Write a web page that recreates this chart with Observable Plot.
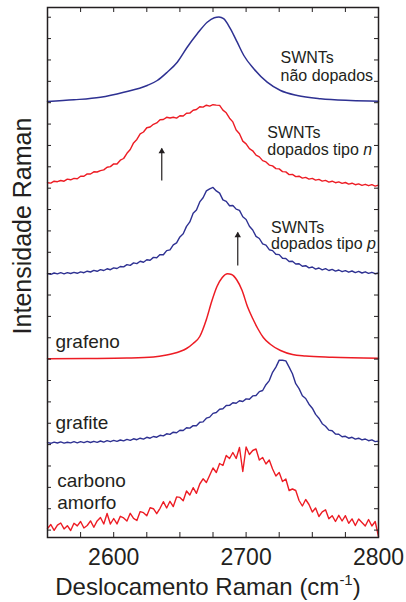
<!DOCTYPE html>
<html><head><meta charset="utf-8">
<script src="https://cdn.jsdelivr.net/npm/d3@7"></script>
<script src="https://cdn.jsdelivr.net/npm/@observablehq/plot@0.6"></script>
<style>html,body{margin:0;padding:0;background:#fff;} #chart svg{display:block}</style>
</head><body><div id="chart"></div>
<script>
// Raman shift grid (cm^-1) for the sampled (noisy) spectra
const shift = [2550,2552.5,2555,2557.5,2560,2562.5,2565,2567.5,2570,2572.5,
 2575,2577.5,2580,2582.5,2585,2587.5,2590,2592.5,2595,2597.5,
 2600,2602.5,2605,2607.5,2610,2612.5,2615,2617.5,2620,2622.5,
 2625,2627.5,2630,2632.5,2635,2637.5,2640,2642.5,2645,2647.5,
 2650,2652.5,2655,2657.5,2660,2662.5,2665,2667.5,2670,2672.5,
 2675,2677.5,2680,2682.5,2685,2687.5,2690,2692.5,2695,2697.5,
 2700,2702.5,2705,2707.5,2710,2712.5,2715,2717.5,2720,2722.5,
 2725,2727.5,2730,2732.5,2735,2737.5,2740,2742.5,2745,2747.5,
 2750,2752.5,2755,2757.5,2760,2762.5,2765,2767.5,2770,2772.5,
 2775,2777.5,2780,2782.5,2785,2787.5,2790,2792.5,2795,2797.5,2800];

// Intensity (arbitrary units, vertically offset spectra)
const nDoped = [354.8,354.4,356.3,355.8,357.0,356.3,358.4,357.7,359.1,358.7,
 361.3,361.2,363.6,363.5,365.7,365.5,366.9,367.6,370.3,370.9,
 373.6,373.5,377.3,379.0,384.2,388.0,394.6,398.1,403.6,405.5,
 409.7,410.5,413.2,414.6,417.8,418.0,420.2,419.5,420.3,419.4,
 421.7,421.5,424.3,424.4,427.2,428.0,430.8,430.4,432.3,431.4,
 432.8,432.4,432.1,427.4,424.7,419.3,415.6,407.5,403.7,396.4,
 393.6,388.9,386.7,382.4,380.6,376.9,375.6,372.4,371.6,368.9,
 368.6,365.9,365.6,362.9,363.1,360.9,361.3,359.4,360.1,358.4,
 359.1,357.4,358.1,356.4,357.1,355.4,356.3,354.8,355.6,354.1,
 355.0,353.4,354.3,352.8,353.6,352.2,353.2,351.8,352.8,351.4,352.4];

const pDoped = [263.9,263.2,264.5,263.6,264.8,263.7,264.9,264.0,265.1,264.2,
 265.6,264.8,266.3,265.5,267.1,266.2,267.9,267.0,268.7,267.8,
 269.6,269.0,271.0,270.6,272.9,272.1,274.6,273.9,276.2,275.3,
 277.8,277.3,280.1,279.8,282.9,282.8,286.9,287.6,292.6,294.7,
 300.6,303.7,311.1,315.6,324.2,327.6,335.6,339.8,346.6,348.7,
 350.1,346.6,344.4,337.6,336.1,331.8,332.0,328.4,327.1,320.7,
 318.0,311.3,307.5,301.2,299.0,293.7,292.4,287.8,286.9,283.3,
 282.9,279.3,279.0,276.0,276.2,273.5,273.8,271.2,271.8,269.6,
 270.5,268.4,269.5,267.6,268.8,267.0,268.1,266.4,267.5,265.8,
 266.9,265.3,266.5,264.9,266.1,264.5,265.7,264.1,265.2,263.8,264.6];

const graphite = [94.9,94.2,95.4,94.5,95.6,94.4,95.3,94.6,95.8,94.7,
 95.9,94.9,96.1,95.0,96.2,95.2,96.5,95.4,96.8,95.8,
 97.1,96.1,97.5,96.6,98.1,97.1,98.7,97.8,99.3,98.4,
 100.2,99.3,101.0,100.3,102.2,101.6,103.7,103.1,105.3,104.8,
 107.2,107.0,109.7,109.4,111.9,111.7,115.2,115.6,119.3,120.4,
 124.1,125.0,128.3,128.8,132.0,132.1,134.8,134.3,136.7,136.0,
 138.6,138.3,141.6,142.0,145.9,147.0,152.8,156.9,165.2,170.4,
 177.4,177.3,176.6,170.3,163.8,153.8,148.9,141.8,139.0,133.3,
 129.3,123.1,119.3,113.8,111.3,107.4,106.8,103.4,103.2,100.8,
 101.2,99.3,100.2,98.4,99.3,97.6,98.5,96.8,97.6,95.9,96.4];

const amorphous = [9,13,7.2,12.4,14.5,8.6,11.8,7,14.2,11.6,
 16,9.5,12,16.6,10.2,16.6,20,13.5,24,13.5,
 19,13.6,21.2,19.6,16.4,24.2,19.1,17,25.9,24.8,
 21.7,29.7,28.8,23.8,29.2,35.8,29.5,36.2,30.9,40.6,
 40.1,36.7,46.5,42.5,49.8,44.2,53.5,58.7,55,62.2,
 69.5,65,74,72,82,79,85,79,90,66,
 90.5,83,87,88.5,77.5,80,73.5,77.5,68.5,61.5,
 65,56,58.5,47,48.5,47,37,31.5,38,33,
 25.5,29.5,21,25.7,27.7,18.7,21.8,16,22.2,16.5,
 21.8,14.2,18.6,12,18.5,15,11.5,18,11.5,16,1];

// Smooth spectra: [Raman shift, intensity]
const pristine = [[2550,436],[2570,437.7],[2590,440.3],[2607.6,445.3],[2625.3,452],[2632.9,457],
 [2640.4,465.3],[2648,475.3],[2655.5,490.3],[2663.1,503.7],[2670.6,515.3],[2676,519.8],
 [2679.5,520.5],[2683,518.8],[2688.2,508.7],[2693.3,495.3],[2698.3,482],[2705.8,468.7],
 [2715.9,455.3],[2726,447],[2738.6,442],[2756.2,438.7],[2778.9,437],[2800,436.3]];

const graphene = [[2550,178.7],[2580,179],[2610,179.5],[2630,180.5],[2640,182.5],[2645,184],
 [2650,186],[2655,189],[2660,194],[2665,201],[2670,218],[2674,236],[2678,251],[2682,260],
 [2686,263.7],[2689,263],[2693,257.5],[2697,247],[2701,231],[2705,219],[2709,208.5],
 [2713,200],[2718,193.5],[2726,187],[2735,183],[2745,181.5],[2765,180.3],[2800,179.2]];

const xTickValues = d3.range(2550, 2801, 25);
const xTickLabels = [2600, 2700, 2800];
const yTickValues = d3.range(7.4, 530, 21.37);

const swntLabels = [
  {x: 2726, y: 475, text: "SWNTs"}, {x: 2726, y: 457, text: "não dopados"},
  {x: 2716, y: 400, text: "SWNTs"}, {x: 2716, y: 383, text: "dopados tipo n"},
  {x: 2718.8, y: 305, text: "SWNTs"}, {x: 2718.8, y: 288.5, text: "dopados tipo p"}
];
const materialLabels = [
  {x: 2556, y: 190, text: "grafeno"},
  {x: 2556, y: 109, text: "grafite"},
  {x: 2557.3, y: 50.5, text: "carbono"},
  {x: 2557.3, y: 28.7, text: "amorfo"}
];
const arrows = [{x: 2636.3, from: 357, to: 389}, {x: 2693.7, from: 272, to: 305}];

const BLUE = "#2e3192", RED = "#ed1c24", INK = "#231f20";
const pts = arr => arr.map(([x, y]) => ({x, y}));
const grid = arr => shift.map((x, i) => ({x, y: arr[i]}));

const chart = Plot.plot({
  width: 406, height: 602,
  marginLeft: 47, marginRight: 28, marginTop: 7, marginBottom: 65,
  style: {fontFamily: "'Liberation Sans', Arial, sans-serif", background: "white", color: INK},
  x: {domain: [2550, 2800]},
  y: {domain: [0, 530], axis: null},
  marks: [
    Plot.line(pts(pristine), {x: "x", y: "y", stroke: BLUE, strokeWidth: 1.5, curve: "monotone-x"}),
    Plot.line(grid(nDoped), {x: "x", y: "y", stroke: RED, strokeWidth: 1.4}),
    Plot.line(grid(pDoped), {x: "x", y: "y", stroke: BLUE, strokeWidth: 1.4}),
    Plot.line(pts(graphene), {x: "x", y: "y", stroke: RED, strokeWidth: 1.5, curve: "monotone-x"}),
    Plot.line(grid(graphite), {x: "x", y: "y", stroke: BLUE, strokeWidth: 1.4}),
    Plot.line(grid(amorphous), {x: "x", y: "y", stroke: RED, strokeWidth: 1.4}),
    Plot.tickX(xTickValues, {x: d => d, insetTop: 525, stroke: INK}),
    Plot.tickX(xTickValues, {x: d => d, insetBottom: 525, stroke: INK}),
    Plot.tickY(yTickValues, {y: d => d, insetRight: 327, stroke: INK}),
    Plot.tickY(yTickValues, {y: d => d, insetLeft: 327, stroke: INK}),
    Plot.frame({stroke: INK, strokeWidth: 1.5}),
    Plot.axisX(xTickLabels, {tickSize: 0, tickPadding: 11, fontSize: 23, label: null, tickFormat: d => String(d)}),
    Plot.text(swntLabels, {x: "x", y: "y", text: "text", textAnchor: "start", lineAnchor: "bottom", fontSize: 16, fill: INK}),
    Plot.text(materialLabels, {x: "x", y: "y", text: "text", textAnchor: "start", lineAnchor: "bottom", fontSize: 19, fill: INK}),
    Plot.link(arrows, {x1: "x", x2: "x", y1: "from", y2: "to", stroke: INK, strokeWidth: 1.2}),
    Plot.dot(arrows, {x: "x", y: "to", symbol: "triangle", r: 2.4, fill: INK, stroke: null, dy: 3})
  ]
});

document.getElementById("chart").appendChild(chart);
const svg = d3.select(chart);

// italic carrier type letters
svg.selectAll("text").each(function() {
  const t = this.textContent;
  if (t === "dopados tipo n" || t === "dopados tipo p") {
    const last = t.slice(-1);
    this.textContent = t.slice(0, -1);
    d3.select(this).append("tspan").attr("font-style", "italic").text(last);
  }
});

// axis titles
const xl = svg.append("text").attr("x", 208).attr("y", 595).attr("text-anchor", "middle")
  .attr("font-size", 24).attr("fill", INK);
xl.append("tspan").text("Deslocamento Raman (cm");
xl.append("tspan").attr("dy", -10).attr("font-size", 15).text("-1");
xl.append("tspan").attr("dy", 10).text(")");

svg.append("text").attr("transform", "translate(31,226) rotate(-90)").attr("text-anchor", "middle")
  .attr("font-size", 25).attr("fill", INK).text("Intensidade Raman");
</script></body></html>
